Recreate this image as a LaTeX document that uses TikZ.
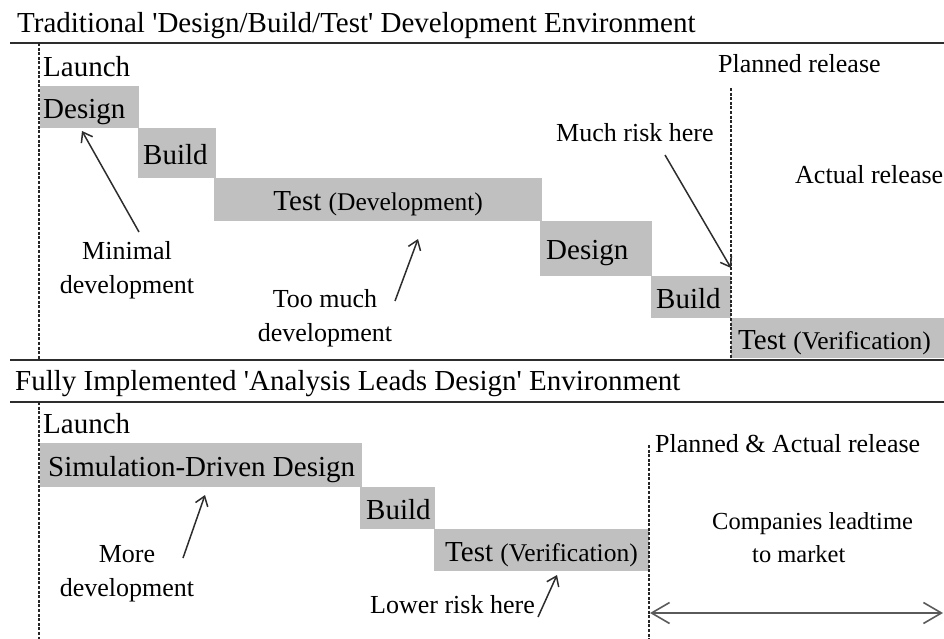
\documentclass[tikz,border=0pt]{standalone}
\usepackage{fontspec}
\setmainfont{Liberation Serif}[Ligatures=TeXOff]
\usetikzlibrary{arrows.meta}

\definecolor{stagegray}{RGB}{192,192,192}
\definecolor{inkgray}{RGB}{45,45,45}
\definecolor{leadgray}{RGB}{90,90,90}

\newcommand{\mainsize}{\fontsize{29}{33.5}\selectfont}
\newcommand{\notesize}{\fontsize{26}{33.5}\selectfont}
\newcommand{\subsize}{\fontsize{25.5}{30}\selectfont}
\newcommand{\leadsize}{\fontsize{24.5}{33}\selectfont}
% left-set label of a given width inside a stage bar
\newcommand{\barlabel}[2]{\makebox[#1pt][l]{#2}}
\newcommand{\barlabelc}[2]{\makebox[#1pt][c]{#2}}

\begin{document}
\begin{tikzpicture}[x=1pt,y=-1pt,
  stagebox/.style={fill=stagegray, anchor=north west, inner ysep=0pt,
    text height=26pt, text depth=4pt, font=\mainsize},
  heading/.style={anchor=base west, font=\mainsize, inner sep=0pt},
  timemark/.style={anchor=base west, font=\mainsize, inner sep=0pt},
  note/.style={anchor=base west, font=\notesize, inner sep=0pt},
  notestack/.style={anchor=base, font=\notesize, inner sep=0pt, align=center},
  rule/.style={draw=inkgray, line width=2pt},
  timeline/.style={draw=black!85, line width=1.3pt, dash pattern=on 3pt off 1.6pt},
  pointer/.style={draw=inkgray, line width=1.5pt,
    -{Straight Barb[length=9pt,width=13pt,line width=1.5pt]}},
  span/.style={draw=leadgray, line width=2.2pt,
    {Straight Barb[length=18pt,width=21pt,line width=1.6pt]}-{Straight Barb[length=18pt,width=21pt,line width=1.6pt]}}
]
\useasboundingbox (0,0) rectangle (944,639);

% ---------- section rules and headings ----------
\node[heading] (titleTop) at (17,33) {Traditional 'Design/Build/Test' Development Environment};
\node[heading] (titleBottom) at (15,390) {Fully Implemented 'Analysis Leads Design' Environment};
\coordinate (ruleA0) at (10,43);  \coordinate (ruleA1) at (944,43);
\coordinate (ruleB0) at (10,360); \coordinate (ruleB1) at (944,360);
\coordinate (ruleC0) at (10,402); \coordinate (ruleC1) at (944,402);
\draw[rule] (ruleA0) -- (ruleA1);
\draw[rule] (ruleB0) -- (ruleB1);
\draw[rule] (ruleC0) -- (ruleC1);

% ---------- traditional process ----------
\node[stagebox, minimum height=42, inner xsep=3] (designA) at (40,86) {\barlabel{93}{Design}};
\node[stagebox, minimum height=50, inner xsep=5] (buildA) at (138,128) {\barlabel{68}{Build}};
\node[stagebox, minimum height=43, inner xsep=0] (testDev) at (214,178)
  {\barlabelc{328}{Test {\subsize (Development)}}};
\node[stagebox, minimum height=55, inner xsep=6] (designB) at (540,221) {\barlabel{100}{Design}};
\node[stagebox, minimum height=42, inner xsep=5] (buildB) at (651,276) {\barlabel{70}{Build}};
\node[stagebox, minimum height=40, inner xsep=7] (testVerA) at (731,318)
  {\barlabel{199}{Test {\subsize (Verification)}}};

% time markers
\coordinate (launchA0) at (39,43);  \coordinate (launchA1) at (39,360);
\coordinate (plannedA0) at (731,88); \coordinate (plannedA1) at (731,360);
\draw[timeline] (launchA0) -- (launchA1);
\draw[timeline] (plannedA0) -- (plannedA1);
\node[timemark] (launchTop) at (43,77) {Launch};
\node[note] (plannedTop) at (718,73) {Planned release};
\node[note] (actualTop) at (795,183) {Actual release};

% annotations (anchored on the baseline of their last line)
\node[notestack] (minimalNote) at (127,293) {Minimal\\development};
\node[notestack] (tooMuchNote) at (325,341) {Too much\\development};
\node[note] (muchRiskNote) at (556,142) {Much risk here};

\coordinate (minimalTail) at (139,232); \coordinate (minimalTip) at (82,131);
\coordinate (tooMuchTail) at (395,301); \coordinate (tooMuchTip) at (418,239);
\coordinate (muchRiskTail) at (665,155); \coordinate (muchRiskTip) at (731,268);
\draw[pointer] (minimalTail) -- (minimalTip);
\draw[pointer] (tooMuchTail) -- (tooMuchTip);
\draw[pointer] (muchRiskTail) -- (muchRiskTip);

% ---------- analysis-led process ----------
\node[stagebox, minimum height=44, inner xsep=8] (simDesign) at (40,443)
  {\barlabel{306}{Simulation-Driven Design}};
\node[stagebox, minimum height=42, inner xsep=6] (buildC) at (360,487) {\barlabel{63}{Build}};
\node[stagebox, minimum height=42, inner xsep=11] (testVerB) at (434,529)
  {\barlabel{193}{Test {\subsize (Verification)}}};

\coordinate (launchB0) at (39,402);  \coordinate (launchB1) at (39,639);
\coordinate (releaseB0) at (649,445); \coordinate (releaseB1) at (649,639);
\draw[timeline] (launchB0) -- (launchB1);
\draw[timeline] (releaseB0) -- (releaseB1);
\node[timemark] (launchBottom) at (43,433) {Launch};
\node[note] (releaseBottom) at (655,452) {Planned \& Actual release};

\node[notestack] (moreNote) at (127,596) {More\\development};
\node[note] (lowerRiskNote) at (370,613) {Lower risk here};
\node[anchor=base west, font=\leadsize, inner sep=0pt, align=left] (leadNote) at (712,562)
  {Companies leadtime\\\hspace*{40pt}to market};

\coordinate (moreTail) at (183,558); \coordinate (moreTip) at (205,495);
\coordinate (lowerTail) at (538,617); \coordinate (lowerTip) at (557,575);
\draw[pointer] (moreTail) -- (moreTip);
\draw[pointer] (lowerTail) -- (lowerTip);

\coordinate (leadStart) at (650,613); \coordinate (leadEnd) at (943,613);
\draw[span] (leadStart) -- (leadEnd);
\end{tikzpicture}
\end{document}
